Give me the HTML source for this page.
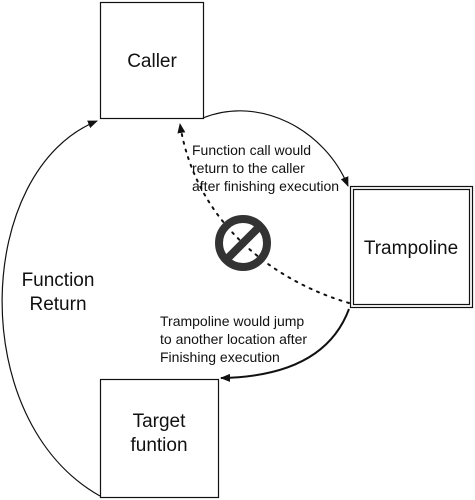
<!DOCTYPE html>
<html><head><style>
body{margin:0;background:#fff;width:475px;height:500px;overflow:hidden;font-family:"Liberation Sans",sans-serif}
svg{display:block}
</style></head><body>
<svg width="475" height="500" viewBox="0 0 475 500">
<defs>
<marker id="a" markerWidth="10" markerHeight="10" refX="9" refY="5" orient="auto" markerUnits="userSpaceOnUse"><path d="M0,1 L10,5 L0,9 Z" fill="#111"/></marker>
</defs>
<g fill="none" stroke="#111">
<rect x="100.5" y="2.5" width="103" height="116" stroke-width="1.2"/>
<rect x="350.5" y="186.5" width="122" height="121" stroke-width="1.2"/>
<rect x="353.5" y="189.5" width="116" height="115" stroke-width="1.2"/>
<rect x="100.5" y="379.5" width="118" height="118" stroke-width="1.2"/>
<path d="M203,118 C260,95 325,130 348,186" stroke-width="1.2" marker-end="url(#a)"/>
<path d="M349,303 C270,280 195,220 180,124" stroke-width="2" stroke-dasharray="2,6" stroke-linecap="round" marker-end="url(#a)"/>
<path d="M349,309 C330,360 280,377 221,378" stroke-width="2" marker-end="url(#a)"/>
<path d="M100,496 C-35,420 -25,170 97,121" stroke-width="1.2" marker-end="url(#a)"/>
</g>
<circle cx="243" cy="243" r="24" fill="none" stroke="#333" stroke-width="8"/>
<line x1="226" y1="260" x2="260" y2="226" stroke="#333" stroke-width="8"/>
<g font-size="19" fill="#111" text-anchor="middle">
<text x="152" y="67">Caller</text>
<text x="411" y="254">Trampoline</text>
<text x="159" y="427">Target</text>
<text x="159" y="451">funtion</text>
<text x="58" y="286">Function</text>
<text x="58" y="310">Return</text>
</g>
<g font-size="14" fill="#111">
<text x="192" y="155">Function call would</text>
<text x="192" y="173">return to the caller</text>
<text x="192" y="191">after finishing execution</text>
<text x="160" y="326">Trampoline would jump</text>
<text x="160" y="344">to another location after</text>
<text x="160" y="362">Finishing execution</text>
</g>
</svg>
</body></html>
